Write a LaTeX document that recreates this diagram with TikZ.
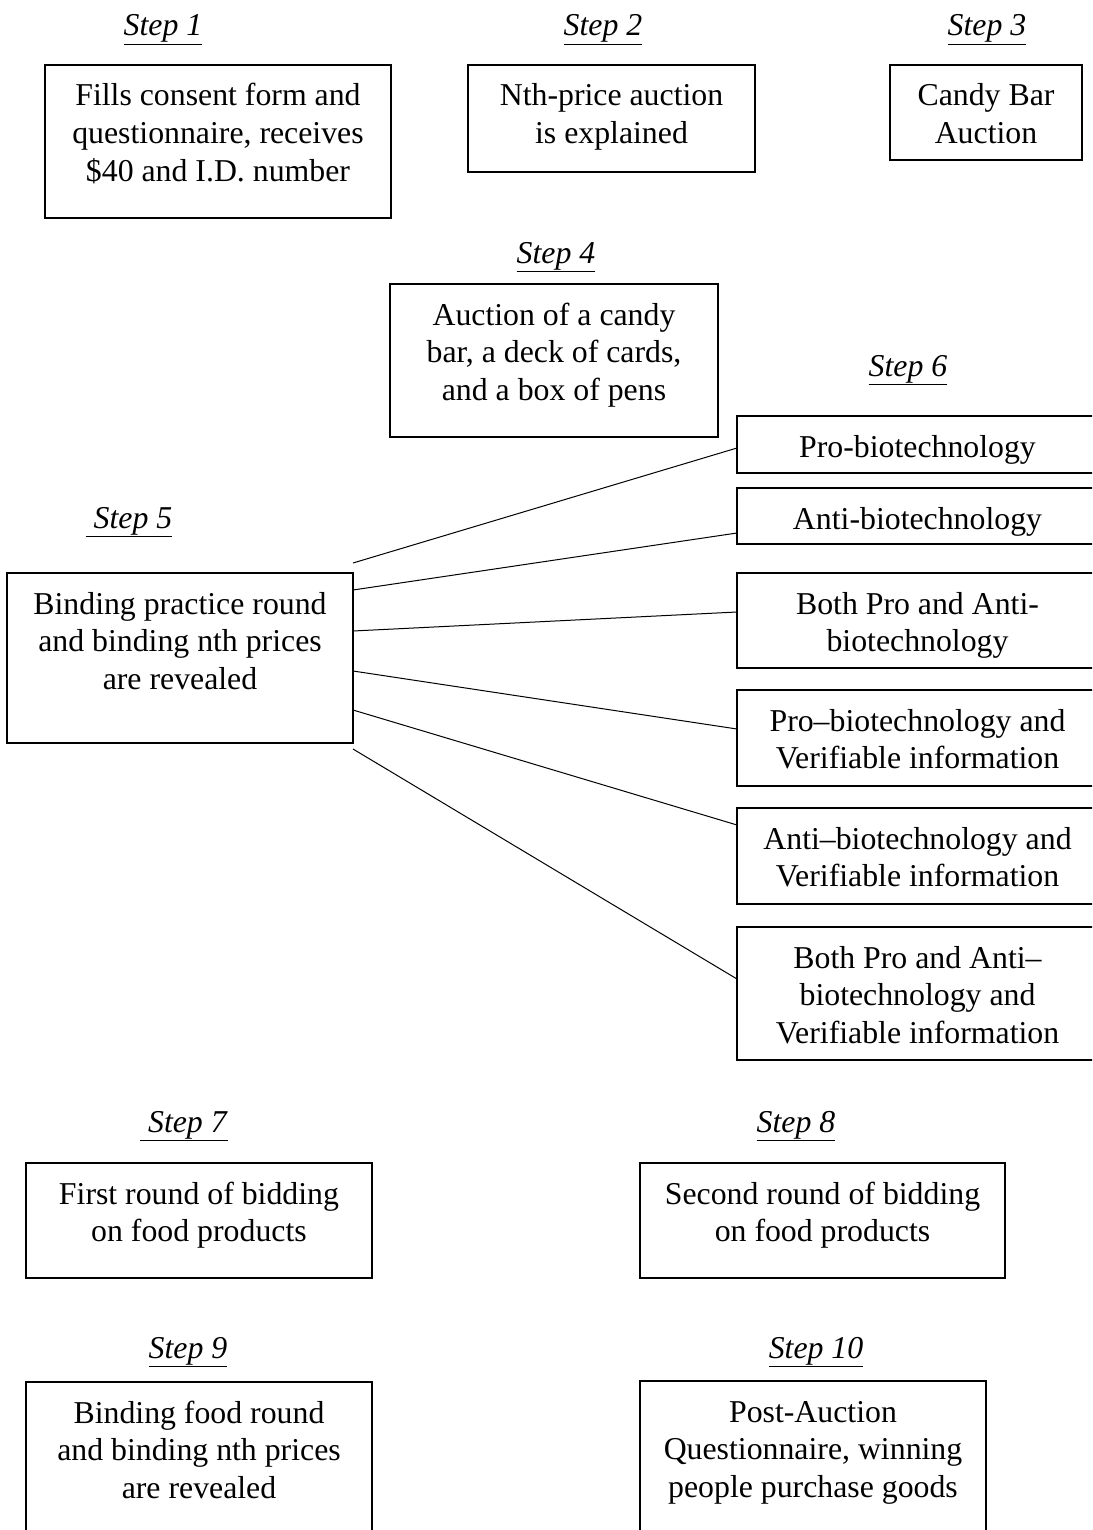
\documentclass[tikz,border=0pt]{standalone}
\usepackage{fontspec}
\setmainfont{Liberation Serif}
\usepackage{tikz}
\usetikzlibrary{positioning}

\tikzset{
  stepbox/.style={draw, line width=1.2pt, anchor=north west, inner sep=0pt, outer sep=0pt},
  boxtext/.style={anchor=base, inner sep=0pt, align=flush center, text width=340pt},
  steplabel/.style={anchor=base, inner sep=0pt},
  link/.style={line width=1pt}
}
\newcommand{\stepul}[1]{\underline{\textit{#1}}}

\begin{document}
\begin{tikzpicture}[x=1pt, y=-1pt, font=\fontsize{31.8}{37.7}\selectfont]
        \useasboundingbox (0,0) rectangle (1092,1530);
        \clip (0,0) rectangle (1092,1530);

        % step headings
        \node[steplabel] (l1) at (163,36) {\stepul{Step 1}};
        \node[steplabel] (l2) at (603,36) {\stepul{Step 2}};
        \node[steplabel] (l3) at (987,36) {\stepul{Step 3}};
        \node[steplabel] (l4) at (556,263) {\stepul{Step 4}};
        \node[steplabel] (l5) at (129,528) {\stepul{\ Step 5}};
        \node[steplabel] (l6) at (908,376) {\stepul{Step 6}};
        \node[steplabel] (l7) at (184,1132) {\stepul{\ Step 7}};
        \node[steplabel] (l8) at (796,1132) {\stepul{Step 8}};
        \node[steplabel] (l9) at (188,1358) {\stepul{Step 9}};
        \node[steplabel] (l10) at (816,1358) {\stepul{Step 10}};

        % boxes, top row
        \node[stepbox, minimum width=346, minimum height=153] (s1) at (45,65) {};
        \node[stepbox, minimum width=287, minimum height=107] (s2) at (468,65) {};
        \node[stepbox, minimum width=192, minimum height=95] (s3) at (890,65) {};
        \node[stepbox, minimum width=328, minimum height=153] (s4) at (390,284) {};
        \node[boxtext] (t1) at ([yshift=-41pt]s1.north) {Fills consent form and\\questionnaire, receives\\\$40 and I.D. number};
        \node[boxtext] (t2) at ([yshift=-41pt]s2.north) {Nth-price auction\\is explained};
        \node[boxtext] (t3) at ([yshift=-41pt]s3.north) {Candy Bar\\Auction};
        \node[boxtext] (t4) at ([yshift=-41pt]s4.north) {Auction of a candy\\bar, a deck of cards,\\and a box of pens};

        % practice round and the six treatments
        \node[stepbox, minimum width=346, minimum height=170] (s5) at (7,573) {};
        \node[boxtext] (t5) at ([yshift=-41pt]s5.north) {Binding practice round\\and binding nth prices\\are revealed};

        \node[stepbox, minimum width=361, minimum height=57] (p1) at (737,416) {};
        \node[stepbox, minimum width=361, minimum height=56] (p2) at (737,488) {};
        \node[stepbox, minimum width=361, minimum height=95] (p3) at (737,573) {};
        \node[stepbox, minimum width=361, minimum height=96] (p4) at (737,690) {};
        \node[stepbox, minimum width=361, minimum height=96] (p5) at (737,808) {};
        \node[stepbox, minimum width=361, minimum height=133] (p6) at (737,927) {};
        \node[boxtext] (u1) at ([yshift=-41pt]p1.north) {Pro-biotechnology};
        \node[boxtext] (u2) at ([yshift=-41pt]p2.north) {Anti-biotechnology};
        \node[boxtext] (u3) at ([yshift=-41pt]p3.north) {Both Pro and Anti-\\biotechnology};
        \node[boxtext] (u4) at ([yshift=-41pt]p4.north) {Pro\textendash biotechnology and\\Verifiable information};
        \node[boxtext] (u5) at ([yshift=-41pt]p5.north) {Anti\textendash biotechnology and\\Verifiable information};
        \node[boxtext] (u6) at ([yshift=-41pt]p6.north) {Both Pro and Anti\textendash\\biotechnology and\\Verifiable information};

        % fan of lines
        \coordinate (f1) at (353,563);
        \coordinate (f2) at (353,590);
        \coordinate (f3) at (353,631);
        \coordinate (f4) at (353,671);
        \coordinate (f5) at (353,710);
        \coordinate (f6) at (353,749);
        \draw[link] (f1) -- ([yshift=-3.5pt]p1.west);
        \draw[link] (f2) -- ([yshift=-17pt]p2.west);
        \draw[link] (f3) -- ([yshift=8.5pt]p3.west);
        \draw[link] (f4) -- ([yshift=9pt]p4.west);
        \draw[link] (f5) -- ([yshift=31pt]p5.west);
        \draw[link] (f6) -- ([yshift=14.5pt]p6.west);

        % bidding rounds
        \node[stepbox, minimum width=346, minimum height=115] (s7) at (26,1163) {};
        \node[stepbox, minimum width=365, minimum height=115] (s8) at (640,1163) {};
        \node[stepbox, minimum width=346, minimum height=170] (s9) at (26,1382) {};
        \node[stepbox, minimum width=346, minimum height=170] (s10) at (640,1381) {};
        \node[boxtext] (t7) at ([yshift=-41pt]s7.north) {First round of bidding\\on food products};
        \node[boxtext] (t8) at ([yshift=-41pt]s8.north) {Second round of bidding\\on food products};
        \node[boxtext] (t9) at ([yshift=-41pt]s9.north) {Binding food round\\and binding nth prices\\are revealed};
        \node[boxtext] (t10) at ([yshift=-41pt]s10.north) {Post-Auction\\Questionnaire, winning\\people purchase goods};
    \end{tikzpicture}
\end{document}
